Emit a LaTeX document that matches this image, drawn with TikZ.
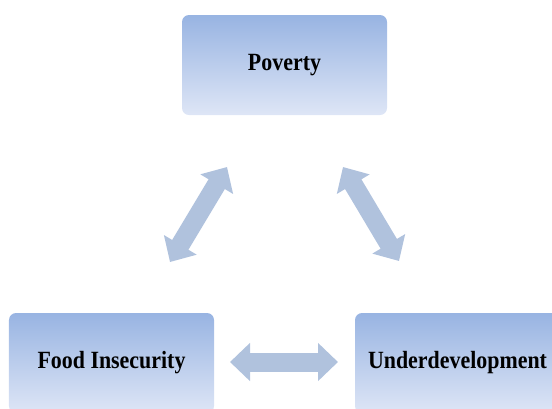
\documentclass[tikz,border=0pt]{standalone}
\usepackage{fontspec}
\usepackage{graphicx}
\setmainfont{Liberation Serif}
\usetikzlibrary{arrows.meta}
\definecolor{boxtop}{RGB}{152,180,226}
\definecolor{boxbot}{RGB}{222,230,246}
\definecolor{arrowfill}{RGB}{176,194,221}
% tall, heavy lettering for the box titles
\newcommand{\boxtitle}[1]{\scalebox{1}[1.13]{#1}}
\begin{document}
\begin{tikzpicture}[x=1bp,y=-1bp,
  box/.style={rounded corners=7bp, top color=boxtop, bottom color=boxbot,
    draw=none, minimum width=205bp, minimum height=100bp, inner sep=0pt,
    font=\fontsize{22}{26}\selectfont\bfseries},
  link/.style={draw=arrowfill, line width=19bp,
    {Triangle[width=37bp,length=20bp]}-{Triangle[width=37bp,length=20bp]}}]
  \path[use as bounding box, clip] (0,0) rectangle (552,408);
  % the three boxes
  \node[box] (poverty) at (284.5,65) {\boxtitle{Poverty}};
  \node[box] (food) at (111.5,363) {\boxtitle{Food Insecurity}};
  \node[box] (under) at (457.5,363) {\boxtitle{Underdevelopment}};
  % ends of the two-way arrows
  \coordinate (pf1) at (227,167);
  \coordinate (pf2) at (170,262);
  \coordinate (pu1) at (343,167);
  \coordinate (pu2) at (399,261);
  \coordinate (fu1) at (230,362);
  \coordinate (fu2) at (338,362);
  \draw[link] (pf1) -- (pf2);
  \draw[link] (pu1) -- (pu2);
  \draw[link] (fu1) -- (fu2);
\end{tikzpicture}
\end{document}
